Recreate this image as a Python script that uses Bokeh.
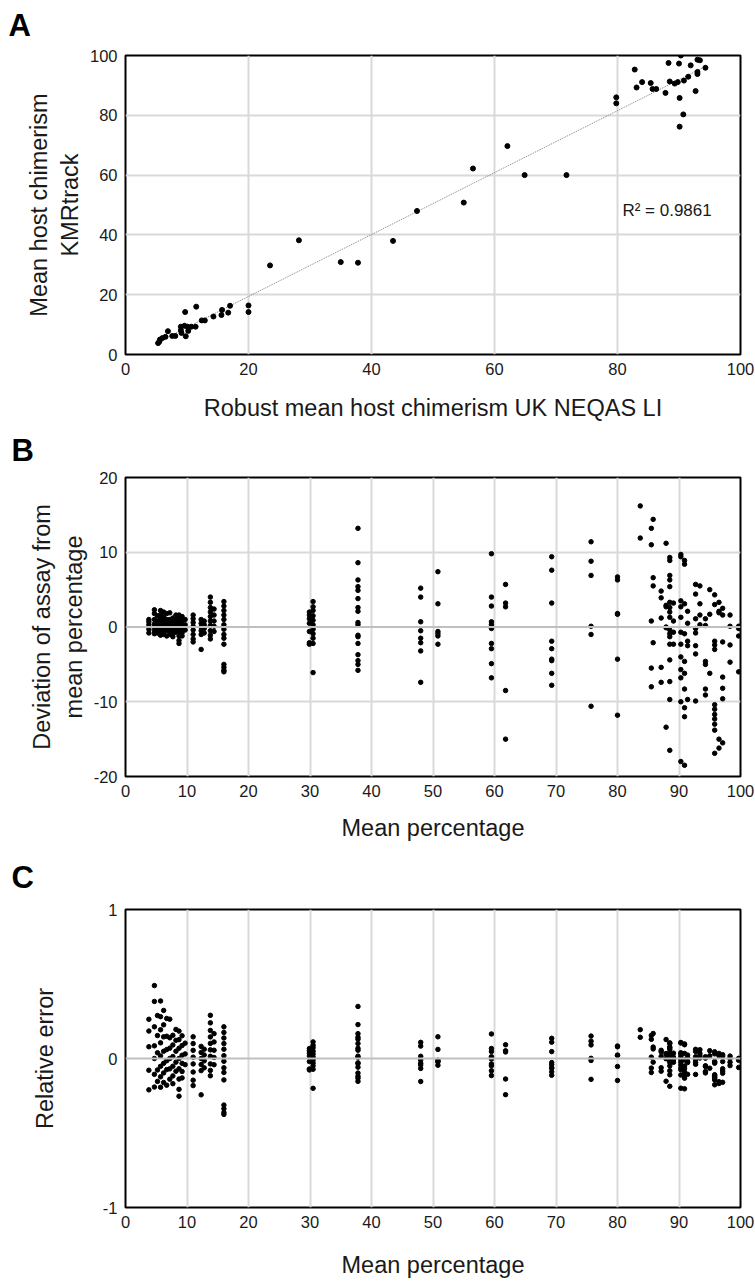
import numpy as np
from bokeh.plotting import figure
from bokeh.layouts import column
from bokeh.models import Range1d, FixedTicker, Span, Label, Title
from bokeh.embed import file_html
from bokeh.resources import INLINE

FONT = "Liberation Sans"

# ---------------- Panel A data ----------------
a_x = [5.3, 5.5, 5.6, 6.0, 6.5, 6.9, 7.6, 8.1, 9.0, 9.1, 9.0, 9.6, 9.8, 9.7, 10.2,
       10.1, 10.7, 11.4, 11.5, 12.4, 12.9, 14.3, 15.6, 15.7, 16.7, 17.0, 20.0, 20.0,
       23.5, 28.2, 35.0, 37.8, 43.5, 47.4, 55.0, 56.5, 62.1, 64.9, 71.7,
       79.8, 79.8, 82.8, 83.1, 84.0, 85.4, 85.7, 86.3, 87.8, 88.3, 88.5, 89.3, 89.8,
       90.0, 90.1, 90.1, 90.3, 90.7, 90.8, 91.5, 91.9, 92.7, 93.0, 93.0, 93.0, 93.4, 94.3]
a_y = [3.8, 4.3, 5.0, 5.5, 5.9, 7.8, 6.2, 6.2, 8.1, 7.2, 9.3, 9.6, 6.1, 14.2, 7.9,
       9.3, 9.3, 9.3, 16.0, 11.4, 11.4, 12.7, 13.2, 14.9, 14.0, 16.3, 16.4, 14.2,
       29.8, 38.2, 30.9, 30.7, 38.0, 48.0, 50.8, 62.2, 69.7, 60.0, 60.0,
       86.0, 84.0, 95.3, 89.3, 91.1, 90.8, 88.8, 88.8, 87.5, 97.5, 91.3, 90.6, 91.1,
       97.3, 85.8, 76.2, 100.0, 80.3, 91.6, 92.9, 96.7, 88.1, 98.6, 94.5, 93.8, 98.4, 95.9]
a_r2_text = "R² = 0.9861"

# ---------------- Panel B / C data ----------------
b_means = [3.8, 4.7, 5.2, 5.7, 6.2, 6.7, 7.2, 7.7, 8.2, 8.7, 9.2, 9.7,
           11.0, 12.3, 12.8, 13.8, 14.4, 16.0, 29.9, 30.5, 37.8,
           48.0, 50.8, 59.5, 61.8, 69.3, 75.7, 80.0, 83.7, 85.5, 85.8, 87.1, 87.9,
           88.5, 89.1, 90.3, 90.9, 91.4, 92.7, 93.4, 94.3, 95.0, 95.8, 96.5, 97.1,
           98.3, 99.7]
b_devs = [
    [1.0, 0.7, 0.3, -0.3, -0.8],
    [2.3, 1.8, 1.0, 0.4, 0.0, -0.5, -0.9],
    [1.5, 0.8, 0.2, -0.4, -0.8],
    [2.2, 1.6, 1.1, 0.6, 0.1, -0.3, -0.7, -1.1],
    [2.0, 1.4, 0.9, 0.3, -0.2, -0.6, -1.0],
    [1.8, 1.0, 0.4, -0.1, -0.5, -1.2],
    [1.9, 1.0, 0.5, 0.0, -0.5, -1.0],
    [1.2, 0.7, 0.1, -0.4, -0.9, -1.3],
    [1.6, 1.0, 0.4, -0.2, -0.7],
    [1.6, 1.1, 0.6, 0.0, -0.6, -1.2, -1.8, -2.2],
    [1.4, 0.8, 0.2, -0.3, -0.8, -1.2],
    [1.0, 0.3, -0.4],
    [1.6, 1.1, 0.6, 0.1, -0.4, -1.0, -1.6, -2.0],
    [1.0, 0.5, 0.0, -0.5, -1.0, -3.0],
    [0.8, 0.3, -0.2, -0.8],
    [4.0, 3.3, 2.6, 2.0, 1.4, 0.8, 0.2, -0.5, -1.1, -1.6],
    [2.4, 1.6, 0.8, 0.1, -0.6],
    [3.4, 2.8, 2.2, 1.6, 1.0, 0.3, -0.3, -1.0, -1.5, -2.3, -5.0, -5.4, -5.8, -6.0],
    [2.0, 1.6, 1.1, 0.5, -0.6, -2.1, -2.3],
    [3.4, 2.7, 2.2, 1.5, 0.9, 0.3, -0.3, -0.9, -1.5, -2.2, -6.1],
    [13.2, 8.6, 6.3, 5.4, 4.9, 3.8, 2.6, 2.1, 0.6, 0.3, -1.1, -1.3, -2.2, -3.7, -4.5, -5.0, -5.8],
    [5.2, 4.0, 0.7, -0.5, -1.5, -2.1, -3.2, -7.4],
    [7.4, 3.1, -0.6, -0.9, -1.2, -2.3],
    [9.8, 4.0, 2.8, 0.7, 0.3, -0.2, -2.2, -2.9, -4.9, -6.8],
    [5.7, 3.2, 2.7, -8.5, -15.0],
    [9.4, 7.6, 3.2, -1.9, -2.9, -4.3, -4.5, -6.2, -7.8],
    [11.4, 8.8, 6.9, 0.1, -1.0, -10.6],
    [6.7, 6.3, 1.8, 1.7, -4.3, -11.8],
    [16.2, 11.9],
    [13.2, 11.0, 0.8, -5.5, -8.0],
    [14.4, 6.6, 5.5, -2.1],
    [4.8, 3.9, 1.2, -5.4, -7.4],
    [11.2, 2.9, 2.7, 0.0, -0.1, -13.4],
    [9.3, 8.9, 6.9, 6.3, 5.4, 3.3, 2.6, 2.0, 1.3, -0.4, -0.9, -1.3, -2.3, -4.4, -7.3, -9.7, -16.5],
    [3.2, 0.8, -0.7, -2.3],
    [9.7, 9.4, 3.5, 2.7, 1.3, -0.7, -2.3, -4.0, -5.7, -6.8, -10.0, -18.0],
    [8.9, 8.4, 3.1, -0.9, -4.6, -6.2, -8.3, -10.8, -12.0, -18.5],
    [2.1, 0.5, -1.9, -2.5, -9.7],
    [5.7, 4.4, 1.1, -0.2, -0.8, -2.5, -3.6, -9.9],
    [5.5, 3.1, 1.6, 0.3],
    [1.1, 0.2, -4.6, -5.0, -8.3, -9.1],
    [5.0, 1.7, -6.2],
    [4.3, 3.0, -1.9, -2.4, -3.0, -10.4, -11.0, -11.7, -12.3, -13.0, -13.8, -16.9],
    [3.3, 2.1, 1.9, -15.0, -16.2],
    [2.5, 1.6, -2.0, -6.7, -8.2, -9.6, -15.5],
    [1.6, 0.1, -2.4, -4.7],
    [0.1, -0.2, -1.2, -6.0],
]

x_ticks_a = [0, 20, 40, 60, 80, 100]
y_ticks_a = [0, 20, 40, 60, 80, 100]
x_ticks_bc = [0, 10, 20, 30, 40, 50, 60, 70, 80, 90, 100]
y_ticks_b = [-20, -10, 0, 10, 20]
y_ticks_c = [-1, 0, 1]
panel_letters = ["A", "B", "C"]

# flatten B; relative error of panel C = deviation / mean
b_x = [m for m, ds in zip(b_means, b_devs) for _ in ds]
b_y = [d for ds in b_devs for d in ds]
c_y = [d / m for m, d in zip(b_x, b_y)]

GRID = "#d9d9d9"
ZERO = "#bfbfbf"
W = 755


def make_fig(height, top, bottom, xr, yr, xt, yt):
    p = figure(width=W, height=height, x_range=Range1d(*xr), y_range=Range1d(*yr),
               output_backend="svg", toolbar_location=None,
               min_border_left=125, min_border_right=15,
               min_border_top=top, min_border_bottom=bottom)
    p.outline_line_color = "black"
    p.outline_line_width = 2
    p.outline_line_alpha = 1
    p.xaxis.ticker = FixedTicker(ticks=xt)
    p.yaxis.ticker = FixedTicker(ticks=yt)
    p.xaxis.major_label_overrides = {t: str(t) for t in xt}
    p.yaxis.major_label_overrides = {t: str(t) for t in yt}
    for ax in (p.xaxis[0], p.yaxis[0]):
        ax.axis_line_color = None
        ax.major_tick_in = 0
        ax.major_tick_out = 0
        ax.minor_tick_line_color = None
        ax.major_label_text_font = FONT
        ax.major_label_text_font_size = "16.5px"
        ax.major_label_text_color = "#1a1a1a"
        ax.major_label_standoff = 8
        ax.axis_label_text_font = FONT
        ax.axis_label_text_font_size = "23.5px"
        ax.axis_label_text_font_style = "normal"
        ax.axis_label_text_color = "#1a1a1a"
    p.xgrid.grid_line_color = GRID
    p.ygrid.grid_line_color = GRID
    p.xgrid.grid_line_width = 2
    p.ygrid.grid_line_width = 2
    return p


def letter_strip(txt, height, top, offset):
    # axis-less strip whose title (sitting just above its tiny frame) is the panel letter
    s = figure(width=W, height=height, x_range=Range1d(0, 1), y_range=Range1d(0, 1),
               output_backend="svg", toolbar_location=None,
               x_axis_location=None, y_axis_location=None,
               min_border_left=125, min_border_right=15,
               min_border_top=top, min_border_bottom=0)
    s.outline_line_color = None
    s.grid.visible = False
    s.title = Title(text=txt, align="left", vertical_align="bottom", offset=offset,
                    standoff=0, text_font=FONT, text_font_size="31px",
                    text_font_style="bold", text_color="black")
    return s


# ---------- Panel A ----------
sA = letter_strip(panel_letters[0], 46, 42, -117)
pA = make_fig(384, 9, 76, (0, 100), (0, 100), x_ticks_a, y_ticks_a)
pA.xgrid.ticker = FixedTicker(ticks=x_ticks_a[1:-1])
pA.ygrid.ticker = FixedTicker(ticks=y_ticks_a[1:-1])
pA.xaxis.axis_label = "Robust mean host chimerism UK NEQAS LI"
pA.yaxis.axis_label = "Mean host chimerism\nKMRtrack"
pA.xaxis.axis_label_standoff = 17
pA.yaxis.axis_label_standoff = 4
slope, intercept = np.polyfit(a_x, a_y, 1)
tx = [min(a_x), max(a_x)]
pA.line(tx, [slope * t + intercept for t in tx], line_color="#7f7f7f", line_width=1,
        line_dash="1 1")
pA.scatter(a_x, a_y, size=5, color="black")
pA.add_layout(Label(x=80.8, y=48.2, text=a_r2_text, text_font=FONT, text_font_size="17px",
                    text_baseline="middle", text_color="#1a1a1a"))

# ---------- Panel B ----------
sB = letter_strip(panel_letters[1], 39, 35, -114)
pB = make_fig(384, 8, 77, (0, 100), (-20, 20), x_ticks_bc, y_ticks_b)
pB.xgrid.ticker = FixedTicker(ticks=x_ticks_bc[1:-1])
pB.ygrid.ticker = FixedTicker(ticks=[-10, 10])
pB.add_layout(Span(location=0, dimension="width", line_color=ZERO, line_width=2))
pB.xaxis.axis_label = "Mean percentage"
pB.yaxis.axis_label = "Deviation of assay from\nmean percentage"
pB.xaxis.axis_label_standoff = 15
pB.yaxis.axis_label_standoff = 4
pB.scatter(b_x, b_y, size=4.5, color="black")

# ---------- Panel C ----------
sC = letter_strip(panel_letters[2], 47, 41, -114)
pC = make_fig(381, 9, 74, (0, 100), (-1, 1), x_ticks_bc, y_ticks_c)
pC.xgrid.ticker = FixedTicker(ticks=x_ticks_bc[1:-1])
pC.ygrid.grid_line_color = None
pC.add_layout(Span(location=0, dimension="width", line_color=ZERO, line_width=2))
pC.xaxis.axis_label = "Mean percentage"
pC.yaxis.axis_label = "Relative error"
pC.xaxis.axis_label_standoff = 21
pC.yaxis.axis_label_standoff = 42
pC.scatter(b_x, c_y, size=4.5, color="black")

layout = column(sA, pA, sB, pB, sC, pC, spacing=0)
open("out.html", "w").write(file_html(layout, INLINE))
